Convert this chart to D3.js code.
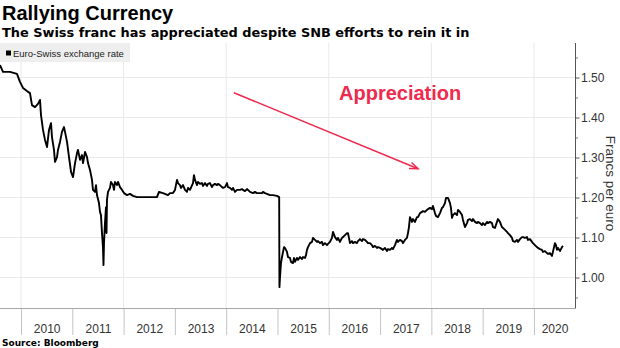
<!DOCTYPE html>
<html>
<head>
<meta charset="utf-8">
<script src="https://cdn.jsdelivr.net/npm/d3@7"></script>
<style>
  html, body { margin: 0; padding: 0; background: #fff; }
  svg { display: block; font-family: "Liberation Sans", Arial, sans-serif; }
</style>
</head>
<body>
<svg id="chart" width="620" height="348"></svg>
<script>
// ---------------- DATA ----------------
const title = "Rallying Currency";
const subtitle = "The Swiss franc has appreciated despite SNB efforts to rein it in";
const source = "Source:  Bloomberg";
const seriesName = "Euro-Swiss exchange rate";
const yAxisTitle = "Francs per euro";
const annotationText = "Appreciation";

const yearTicks = [2010, 2011, 2012, 2013, 2014, 2015, 2016, 2017, 2018, 2019, 2020];
const yTickValues = [1.00, 1.10, 1.20, 1.30, 1.40, 1.50];
const yMinorTickValues = [0.95, 1.05, 1.15, 1.25, 1.35, 1.45, 1.55];

// Decimal-year dates and EUR/CHF values
const dates = [
  2009.591,2009.649,2009.786,2009.922,2009.980,2010.039,2010.117,2010.175,2010.214,2010.273,
  2010.331,2010.370,2010.390,2010.429,2010.468,2010.507,2010.546,2010.585,2010.604,2010.643,
  2010.663,2010.702,2010.721,2010.760,2010.799,2010.838,2010.858,2010.897,2010.936,2010.975,
  2011.014,2011.053,2011.092,2011.111,2011.150,2011.189,2011.209,2011.248,2011.287,2011.306,
  2011.345,2011.384,2011.403,2011.442,2011.462,2011.481,2011.520,2011.540,2011.559,2011.579,
  2011.598,2011.608,2011.618,2011.637,2011.657,2011.667,2011.676,2011.696,2011.735,2011.754,
  2011.793,2011.813,2011.832,2011.871,2011.891,2011.930,2011.969,2012.008,2012.066,2012.125,
  2012.183,2012.261,2012.359,2012.456,2012.554,2012.651,2012.690,2012.768,2012.865,2012.904,
  2012.963,2013.002,2013.041,2013.060,2013.099,2013.119,2013.158,2013.197,2013.236,2013.255,
  2013.294,2013.353,2013.372,2013.392,2013.431,2013.450,2013.489,2013.528,2013.548,2013.587,
  2013.626,2013.645,2013.684,2013.723,2013.743,2013.782,2013.821,2013.840,2013.879,2013.918,
  2013.938,2013.977,2014.016,2014.035,2014.074,2014.113,2014.133,2014.172,2014.211,2014.269,
  2014.308,2014.327,2014.366,2014.405,2014.425,2014.464,2014.522,2014.561,2014.600,2014.659,
  2014.698,2014.717,2014.756,2014.795,2014.854,2014.912,2014.990,2015.033,2015.038,2015.049,
  2015.068,2015.088,2015.127,2015.146,2015.185,2015.205,2015.244,2015.263,2015.302,2015.322,
  2015.341,2015.380,2015.400,2015.439,2015.478,2015.497,2015.536,2015.556,2015.575,2015.595,
  2015.634,2015.673,2015.692,2015.731,2015.770,2015.790,2015.829,2015.868,2015.887,2015.926,
  2015.965,2015.984,2016.023,2016.062,2016.082,2016.121,2016.160,2016.179,2016.218,2016.257,
  2016.277,2016.316,2016.355,2016.374,2016.394,2016.413,2016.452,2016.471,2016.510,2016.549,
  2016.569,2016.608,2016.647,2016.666,2016.705,2016.744,2016.764,2016.803,2016.842,2016.861,
  2016.900,2016.939,2016.959,2016.998,2017.037,2017.056,2017.095,2017.134,2017.154,2017.193,
  2017.232,2017.251,2017.290,2017.329,2017.349,2017.388,2017.427,2017.446,2017.485,2017.524,
  2017.544,2017.563,2017.583,2017.622,2017.641,2017.680,2017.719,2017.739,2017.778,2017.817,
  2017.836,2017.875,2017.914,2017.934,2017.973,2018.012,2018.031,2018.070,2018.090,2018.129,
  2018.168,2018.207,2018.226,2018.265,2018.285,2018.324,2018.363,2018.382,2018.402,2018.421,
  2018.460,2018.499,2018.519,2018.558,2018.597,2018.616,2018.655,2018.694,2018.714,2018.753,
  2018.792,2018.811,2018.850,2018.889,2018.908,2018.947,2018.986,2019.006,2019.045,2019.084,
  2019.103,2019.142,2019.181,2019.201,2019.240,2019.279,2019.298,2019.337,2019.376,2019.396,
  2019.435,2019.474,2019.493,2019.532,2019.571,2019.591,2019.630,2019.669,2019.688,2019.727,
  2019.766,2019.786,2019.825,2019.864,2019.883,2019.922,2019.961,2019.980,2020.019,2020.058,
  2020.078,2020.117,2020.156,2020.175,2020.214,2020.253,2020.273,2020.312,2020.351,2020.370,
  2020.409,2020.429,2020.448,2020.468,2020.507,2020.546,2020.565
];
const rates = [
  1.531,1.514,1.514,1.509,1.489,1.474,1.466,1.461,1.431,1.426,
  1.434,1.444,1.406,1.369,1.344,1.326,1.369,1.386,1.351,1.319,
  1.289,1.301,1.319,1.339,1.364,1.376,1.364,1.339,1.301,1.264,
  1.251,1.286,1.311,1.319,1.294,1.306,1.286,1.314,1.301,1.286,
  1.269,1.244,1.219,1.214,1.231,1.206,1.186,1.164,1.156,1.111,
  1.076,1.031,1.086,1.136,1.176,1.111,1.194,1.214,1.224,1.239,
  1.231,1.219,1.239,1.231,1.239,1.226,1.219,1.211,1.206,1.209,
  1.204,1.201,1.201,1.201,1.201,1.201,1.214,1.211,1.206,1.211,
  1.211,1.219,1.244,1.236,1.231,1.224,1.231,1.219,1.214,1.224,
  1.219,1.236,1.256,1.244,1.231,1.239,1.234,1.236,1.229,1.236,
  1.229,1.234,1.236,1.226,1.231,1.234,1.231,1.234,1.231,1.226,
  1.224,1.226,1.236,1.226,1.224,1.219,1.224,1.214,1.219,1.219,
  1.221,1.219,1.216,1.221,1.219,1.214,1.211,1.214,1.211,1.211,
  1.211,1.214,1.211,1.209,1.206,1.206,1.204,1.201,0.976,1.001,
  1.036,1.051,1.076,1.074,1.064,1.051,1.049,1.039,1.036,1.049,
  1.039,1.049,1.044,1.051,1.046,1.051,1.049,1.056,1.069,1.076,
  1.086,1.089,1.099,1.094,1.089,1.091,1.086,1.089,1.081,1.086,
  1.081,1.084,1.089,1.099,1.114,1.101,1.094,1.099,1.089,1.099,
  1.101,1.106,1.111,1.111,1.099,1.086,1.091,1.086,1.089,1.086,
  1.091,1.096,1.091,1.096,1.094,1.089,1.086,1.086,1.081,1.076,
  1.079,1.074,1.076,1.074,1.071,1.069,1.074,1.066,1.071,1.069,
  1.074,1.071,1.081,1.094,1.089,1.094,1.091,1.086,1.094,1.099,
  1.111,1.126,1.151,1.139,1.146,1.139,1.151,1.151,1.161,1.164,
  1.166,1.164,1.169,1.171,1.174,1.171,1.179,1.161,1.154,1.151,
  1.161,1.174,1.176,1.186,1.199,1.199,1.186,1.174,1.149,1.156,
  1.161,1.156,1.169,1.164,1.156,1.144,1.126,1.136,1.144,1.146,
  1.141,1.146,1.139,1.136,1.139,1.136,1.131,1.136,1.131,1.139,
  1.136,1.139,1.136,1.126,1.124,1.139,1.146,1.139,1.126,1.124,
  1.119,1.114,1.111,1.106,1.099,1.091,1.089,1.094,1.089,1.096,
  1.101,1.101,1.099,1.101,1.094,1.096,1.089,1.086,1.081,1.076,
  1.074,1.071,1.069,1.064,1.066,1.061,1.059,1.061,1.054,1.064,
  1.086,1.081,1.069,1.074,1.066,1.076,1.079
];
// Annotation arrow, in data units (decimal year, rate)
const arrowFrom = [2014.15, 1.462];
const arrowTo = [2017.74, 1.272];
const annotationAt = [2016.20, 1.443];

// ---------------- CHART ----------------
const svg = d3.select("#chart");
const W = 620, H = 348;
const plot = { left: 0, right: 575, top: 43, bottom: 308 };
const red = "#ee2a4f";

svg.append("rect").attr("width", W).attr("height", H).attr("fill", "#fff");

const x = d3.scaleLinear().domain([2009.5906, 2020.8]).range([plot.left, plot.right]);
const y = d3.scaleLinear().domain([0.92375, 1.58625]).range([plot.bottom, plot.top]);

// gridlines
const grid = svg.append("g");
grid.selectAll("line.h").data(yTickValues).join("line")
  .attr("x1", plot.left).attr("x2", plot.right)
  .attr("y1", d => y(d)).attr("y2", d => y(d))
  .attr("stroke", "#e9e9e9").attr("stroke-width", 1);
grid.selectAll("line.v").data(yearTicks.filter(d => d % 2 === 0)).join("line")
  .attr("x1", d => x(d)).attr("x2", d => x(d))
  .attr("y1", plot.top).attr("y2", plot.bottom)
  .attr("stroke", "#e9e9e9").attr("stroke-width", 1);

// legend
const lg = svg.append("g");
lg.append("rect").attr("x", 0).attr("y", 43).attr("width", 130).attr("height", 19).attr("fill", "#eeeeee");
lg.append("rect").attr("x", 6).attr("y", 50.5).attr("width", 5).attr("height", 5).attr("fill", "#000");
lg.append("text").attr("x", 13).attr("y", 56.5).attr("font-size", 9.5).attr("fill", "#222").text(seriesName);

// x axis: year boundary ticks
const xTickAxis = d3.axisBottom(x).tickValues(yearTicks).tickSize(27).tickFormat("");
const gx = svg.append("g").attr("transform", `translate(0,${plot.bottom})`).call(xTickAxis);
gx.select(".domain").remove();
gx.selectAll(".tick line").attr("stroke", "#c4c4c4");
svg.append("line").attr("x1", plot.left).attr("x2", plot.right)
  .attr("y1", plot.bottom + 0.5).attr("y2", plot.bottom + 0.5).attr("stroke", "#a8a8a8");

// x labels centred in each visible year
const [d0, d1] = x.domain();
const yearCentre = yr => (Math.max(yr, d0) + Math.min(yr + 1, d1)) / 2;
const xLabelAxis = d3.axisBottom(x).tickValues(yearTicks.map(yearCentre))
  .tickSize(0).tickPadding(0).tickFormat((d, i) => String(yearTicks[i]));
const gxl = svg.append("g").attr("transform", `translate(0,${plot.bottom})`).call(xLabelAxis);
gxl.select(".domain").remove();
gxl.selectAll("text").attr("font-family", "Liberation Sans, Arial, sans-serif")
  .attr("font-size", 12).attr("fill", "#333").attr("dy", null).attr("y", 25);

// y axis right
const yAxis = d3.axisRight(y).tickValues(yTickValues).tickSize(4).tickPadding(2).tickFormat(d3.format(".2f"));
const gy = svg.append("g").attr("transform", `translate(${plot.right},0)`).call(yAxis);
gy.select(".domain").attr("stroke", "#555").attr("d", `M0.5,${plot.top}V${plot.bottom + 0.5}`);
gy.selectAll(".tick line").attr("stroke", "#555").attr("transform", "translate(0.5,0)");
gy.selectAll("text").attr("font-family", "Liberation Sans, Arial, sans-serif")
  .attr("font-size", 12).attr("fill", "#333");
const yMinor = d3.axisRight(y).tickValues(yMinorTickValues).tickSize(2.5).tickFormat("");
const gym = svg.append("g").attr("transform", `translate(${plot.right},0)`).call(yMinor);
gym.select(".domain").remove();
gym.selectAll(".tick line").attr("stroke", "#777").attr("transform", "translate(0.5,0)");

// y axis title
svg.append("text")
  .attr("transform", `translate(606,${(plot.top + plot.bottom) / 2 + 8}) rotate(90)`)
  .attr("text-anchor", "middle").attr("font-size", 13.5).attr("fill", "#333")
  .text(yAxisTitle);

// data line
const pts = dates.map((d, i) => [d, rates[i]]);
const line = d3.line().x(d => x(d[0])).y(d => y(d[1]));
svg.append("path").datum(pts).attr("d", line)
  .attr("fill", "none").attr("stroke", "#000").attr("stroke-width", 1.9)
  .attr("stroke-linejoin", "round");

// annotation arrow
const ax1 = x(arrowFrom[0]), ay1 = y(arrowFrom[1]);
const ax2 = x(arrowTo[0]), ay2 = y(arrowTo[1]);
svg.append("line").attr("x1", ax1).attr("y1", ay1).attr("x2", ax2).attr("y2", ay2)
  .attr("stroke", red).attr("stroke-width", 1.5);
const ang = Math.atan2(ay2 - ay1, ax2 - ax1);
const hl = 9, hw = 0.38;
const head = [
  [ax2 - hl * Math.cos(ang - hw), ay2 - hl * Math.sin(ang - hw)],
  [ax2, ay2],
  [ax2 - hl * Math.cos(ang + hw), ay2 - hl * Math.sin(ang + hw)]
];
svg.append("path").attr("d", d3.line()(head)).attr("fill", "none")
  .attr("stroke", red).attr("stroke-width", 1.5).attr("stroke-linejoin", "miter");
svg.append("text").attr("x", x(annotationAt[0])).attr("y", y(annotationAt[1]))
  .attr("font-size", 20).attr("font-weight", "bold").attr("fill", red).text(annotationText);

// titles
svg.append("text").attr("x", 2).attr("y", 20).attr("font-size", 20).attr("font-weight", "bold")
  .attr("fill", "#000").text(title);
svg.append("text").attr("x", 2).attr("y", 37).attr("font-family", "DejaVu Sans, Verdana, sans-serif")
  .attr("font-size", 12.9).attr("font-weight", "bold").attr("fill", "#000").text(subtitle);
svg.append("text").attr("x", 2).attr("y", 346).attr("font-family", "DejaVu Sans, Verdana, sans-serif")
  .attr("font-size", 9).attr("font-weight", "bold").attr("fill", "#000").text(source);
</script>
</body>
</html>
